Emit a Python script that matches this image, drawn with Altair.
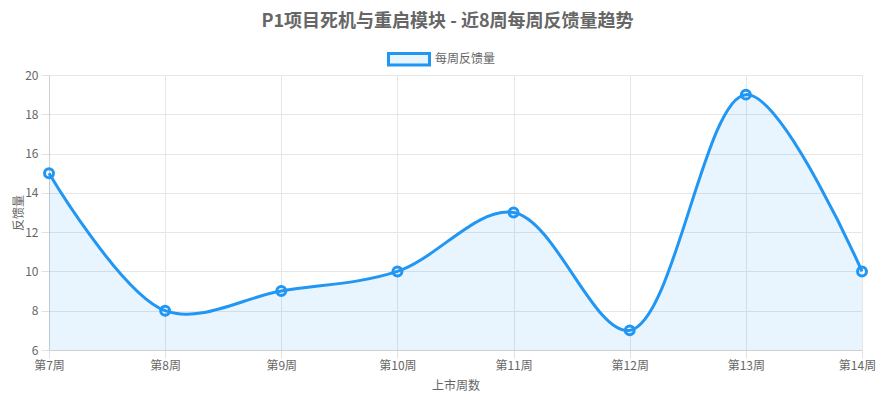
import altair as alt
import pandas as pd

weeks = ["第7周", "第8周", "第9周", "第10周", "第11周", "第12周", "第13周", "第14周"]
counts = [15, 8, 9, 10, 13, 7, 19, 10]
y_ticks = [6, 8, 10, 12, 14, 16, 18, 20]

title_text = "P1项目死机与重启模块 - 近8周每周反馈量趋势"
legend_text = "每周反馈量"
x_title = "上市周数"
y_title = "反馈量"

FONT = "Noto Sans CJK SC"
BLUE = "#2196F3"
FILL = "rgba(33,150,243,0.1)"
W, H = 813, 275

df = pd.DataFrame({"week": weeks, "count": counts})

x_enc = alt.X(
    "week:N", sort=weeks,
    scale=alt.Scale(type="point", padding=0),
    axis=alt.Axis(
        title=x_title, labelAngle=0, labelFontSize=12, labelColor="#666666",
        labelFont=FONT, tickSize=8, tickColor="#e0e0e0", labelPadding=2,
        labelOverlap=False,
        labelOffset={"condition": {"test": f"datum.value == '{weeks[-1]}'", "value": -5}, "value": 0},
        domainColor="#d0d0d0", gridColor="#e6e6e6", grid=True,
        titleFont=FONT, titleFontSize=12, titleColor="#666666", titleFontWeight="normal",
        titleX=W / 2, titleY=35, titleBaseline="middle", titleAlign="center",
    ),
)
y_enc = alt.Y(
    "count:Q",
    scale=alt.Scale(domain=[6, 20], zero=False, nice=False),
    axis=alt.Axis(
        title=y_title, values=y_ticks, tickCount=8, labelOverlap=False,
        labelFontSize=12, labelColor="#666666",
        labelFont=FONT, tickSize=8, tickColor="#e0e0e0", labelPadding=3,
        domainColor="#d0d0d0", gridColor="#e6e6e6", grid=True,
        titleFont=FONT, titleFontSize=12, titleColor="#666666", titleFontWeight="normal",
        titleX=-31, titleY=H / 2, titleAngle=-90, titleBaseline="middle", titleAlign="center",
    ),
)

base = alt.Chart(df)
area = base.mark_area(interpolate="catmull-rom", color=FILL).encode(
    x=x_enc, y=y_enc, y2=alt.datum(6)
)
line = base.mark_line(interpolate="catmull-rom", color=BLUE, strokeWidth=3).encode(
    x=alt.X("week:N", sort=weeks), y="count:Q"
)
points = base.mark_point(
    shape="circle", filled=False, color=BLUE, strokeWidth=3, size=80, opacity=1
).encode(x=alt.X("week:N", sort=weeks), y="count:Q")

one = pd.DataFrame({"t": [title_text], "l": [legend_text]})
title = alt.Chart(one).mark_text(
    font=FONT, fontSize=18, fontWeight="bold", color="#666666", align="center", baseline="middle"
).encode(x=alt.value(W / 2 - 8), y=alt.value(-53), text="t:N")
leg_box = alt.Chart(one).mark_rect(fill=FILL, stroke=BLUE, strokeWidth=3).encode(
    x=alt.value(339.5), x2=alt.value(380.5), y=alt.value(-21.5), y2=alt.value(-10)
)
leg_text = alt.Chart(one).mark_text(
    font=FONT, fontSize=12, color="#666666", align="left", baseline="middle"
).encode(x=alt.value(386), y=alt.value(-16), text="l:N")

chart = alt.layer(area, line, points, title, leg_box, leg_text).properties(
    width=W, height=H,
    autosize=alt.AutoSizeParams(type="none"),
    padding={"left": 41, "top": 67, "right": 14, "bottom": 42},
).configure_view(stroke=None).configure(background="white")

chart.save("out.html", embed_options={"renderer": "svg", "actions": False})
